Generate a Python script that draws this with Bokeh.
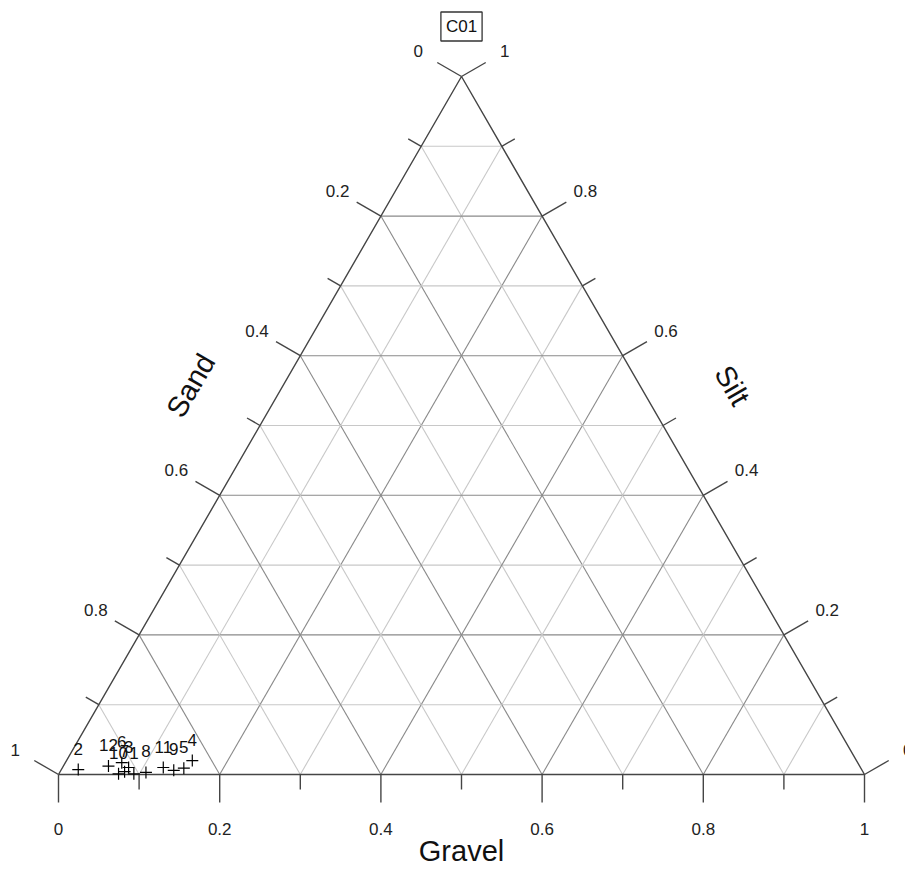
import numpy as np
from bokeh.plotting import figure
from bokeh.models import Range1d, Label, ColumnDataSource
from bokeh.core.properties import value
from bokeh.embed import file_html
from bokeh.resources import INLINE

# --- data -------------------------------------------------------------
chart_title = "C01"
bottom_name, left_name, right_name = "Gravel", "Sand", "Silt"

tick_steps = [0.0, 0.1, 0.2, 0.3, 0.4, 0.5, 0.6, 0.7, 0.8, 0.9, 1.0]
tick_label_values = [0.0, 0.2, 0.4, 0.6, 0.8, 1.0]
tick_label_texts = ["0", "0.2", "0.4", "0.6", "0.8", "1"]

sample_ids = ["2", "12", "6", "3", "10", "7", "1", "8", "11", "9", "5", "4"]
gravel = [0.021, 0.056, 0.070, 0.082, 0.074, 0.080, 0.093, 0.107, 0.125, 0.140, 0.151, 0.156]
sand = [0.972, 0.932, 0.913, 0.908, 0.925, 0.916, 0.906, 0.890, 0.865, 0.854, 0.840, 0.824]
silt = [0.007, 0.012, 0.017, 0.010, 0.001, 0.004, 0.001, 0.003, 0.010, 0.006, 0.009, 0.020]

# --- geometry ---------------------------------------------------------
PX = 806.0          # pixels per unit side length
H = np.sqrt(3) / 2
FONT = value("Liberation Sans")


def proj(g, si):
    """Ternary (gravel, silt) -> cartesian; sand vertex bottom-left."""
    g = np.asarray(g, dtype=float)
    si = np.asarray(si, dtype=float)
    return g + si / 2.0, si * H


p = figure(width=905, height=873, output_backend="svg", toolbar_location=None,
           x_axis_type=None, y_axis_type=None, min_border=0,
           x_range=Range1d(-58 / PX, 847 / PX), y_range=Range1d(-99 / PX, 774 / PX))
p.outline_line_color = None
p.background_fill_color = "white"
p.border_fill_color = "white"

edge_col = "#454545"
major_col = "#8a8a8a"
minor_col = "#c8c8c8"

# grid lines
for t in tick_steps[1:-1]:
    major = abs(round(t * 10) % 2) == 0
    col = major_col if major else minor_col
    segs = [
        ((t, 0.0), (t, 1.0 - t)),            # constant gravel
        ((0.0, t), (1.0 - t, t)),            # constant silt
        ((1.0 - t, 0.0), (0.0, 1.0 - t)),    # constant sand
    ]
    for (g0, s0), (g1, s1) in segs:
        x0, y0 = proj(g0, s0)
        x1, y1 = proj(g1, s1)
        p.line([x0, x1], [y0, y1], line_color=col, line_width=1.1)

# triangle outline
tx, ty = proj([0, 1, 0, 0], [0, 0, 1, 0])
p.line(tx, ty, line_color=edge_col, line_width=1.4)

# ticks
def edge_point(axis, t):
    if axis == "bottom":      # gravel increases left -> right
        return proj(t, 0.0)
    if axis == "left":        # sand increases top -> bottom-left
        return proj(0.0, 1.0 - t)
    return proj(1.0 - t, t)   # silt increases bottom-right -> top

normals = {"bottom": (0.0, -1.0), "left": (-H, 0.5), "right": (H, 0.5)}

xs0, ys0, xs1, ys1 = [], [], [], []
for axis, (nx, ny) in normals.items():
    for t in tick_steps:
        ln = (28 if abs(round(t * 10) % 2) == 0 else 15) / PX
        x, y = edge_point(axis, t)
        xs0.append(float(x)); ys0.append(float(y))
        xs1.append(float(x + nx * ln)); ys1.append(float(y + ny * ln))
p.segment(xs0, ys0, xs1, ys1, line_color=edge_col, line_width=1.4)

# tick labels
lx, ly, lt = [], [], []
for axis, (nx, ny) in normals.items():
    dist = (54 if axis == "bottom" else 50) / PX
    for t, s in zip(tick_label_values, tick_label_texts):
        x, y = edge_point(axis, t)
        lx.append(float(x + nx * dist)); ly.append(float(y + ny * dist)); lt.append(s)
p.text(lx, ly, text=lt, text_font=FONT, text_font_size="17px", text_color="#222222",
       text_align="center", text_baseline="middle")

# axis titles
p.text([0.5], [-76 / PX], text=[bottom_name], text_font=FONT, text_font_size="29px",
       text_color="#111111", text_align="center", text_baseline="middle")
mx, my = proj(0.0, 0.5)
p.text([float(mx - H * 80 / PX)], [float(my + 0.5 * 80 / PX)], text=[left_name],
       angle=np.pi / 3, text_font=FONT, text_font_size="29px", text_color="#111111",
       text_align="center", text_baseline="middle")
mx, my = proj(0.5, 0.5)
p.text([float(mx + H * 80 / PX)], [float(my + 0.5 * 80 / PX)], text=[right_name],
       angle=-np.pi / 3, text_font=FONT, text_font_size="29px", text_color="#111111",
       text_align="center", text_baseline="middle")

# samples
tot = np.array(gravel) + np.array(sand) + np.array(silt)
g_n = np.array(gravel) / tot
si_n = np.array(silt) / tot
px_, py_ = proj(g_n, si_n)
src = ColumnDataSource(dict(x=px_, y=py_, ly=py_ + 21 / PX, name=sample_ids))
p.scatter("x", "y", source=src, marker="cross", size=12, line_color="black", line_width=1.2)
p.text("x", "ly", text="name", source=src, text_font=FONT, text_font_size="17px",
       text_color="#111111", text_align="center", text_baseline="middle")

# title box
p.add_layout(Label(x=0.5, y=(774 - 26) / PX, text=chart_title, text_font="Liberation Sans",
                   text_font_size="17px", text_color="#111111", text_align="center",
                   text_baseline="middle", border_line_color="#333333", border_line_width=1.3,
                   background_fill_color="white", padding=5))

open("out.html", "w").write(file_html(p, INLINE))
